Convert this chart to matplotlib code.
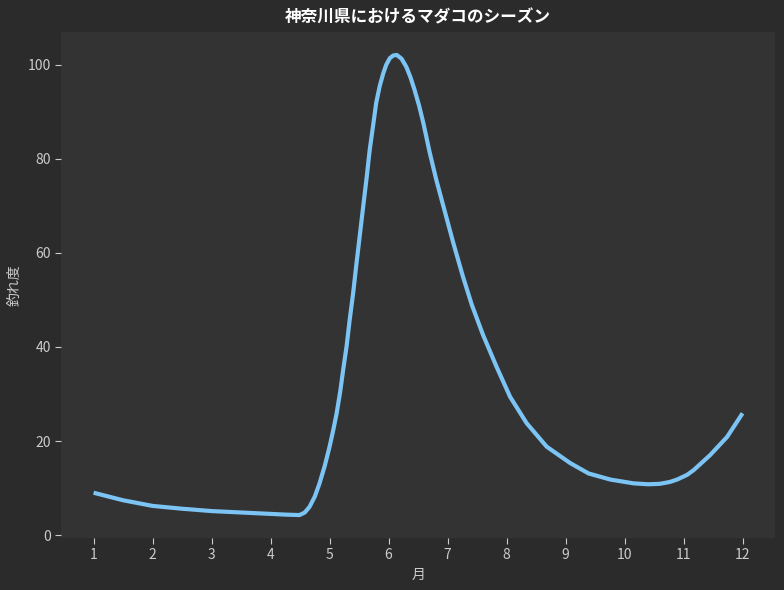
import matplotlib
matplotlib.use("Agg")
import matplotlib.pyplot as plt

plt.rcParams['font.family'] = ['Noto Sans CJK JP', 'DejaVu Sans']

# values (month, catch index)
months = [1.0, 1.5, 2.0, 2.5, 3.0, 3.5, 4.0, 4.25, 4.49, 4.58, 4.66, 4.75, 4.83, 4.92,
          5.0, 5.06, 5.12, 5.18, 5.23, 5.29, 5.34, 5.4, 5.45, 5.51, 5.57, 5.63, 5.68,
          5.74, 5.79, 5.85, 5.91, 5.96, 6.02, 6.08, 6.14, 6.22, 6.3, 6.37, 6.44, 6.52,
          6.59, 6.7, 6.81, 6.93, 7.1, 7.26, 7.41, 7.6, 7.83, 8.06, 8.34, 8.68, 9.08,
          9.39, 9.76, 10.15, 10.4, 10.6, 10.77, 10.89, 11.06, 11.17, 11.45, 11.74, 12.0]
score = [9.0, 7.4, 6.2, 5.6, 5.1, 4.8, 4.5, 4.35, 4.25, 4.8, 6.0, 8.2, 11.0, 14.8,
         18.8, 22.2, 25.9, 30.5, 35.1, 40.3, 45.7, 51.5, 57.1, 63.5, 69.9, 76.2, 81.9,
         87.3, 91.9, 95.5, 98.2, 100.0, 101.4, 102.0, 102.1, 101.3, 99.6, 97.4, 94.7, 91.2,
         87.6, 81.2, 75.5, 69.9, 62.0, 55.0, 49.0, 42.6, 35.8, 29.4, 23.8, 18.8, 15.3,
         13.1, 11.8, 11.0, 10.8, 10.9, 11.3, 11.8, 12.8, 13.8, 17.0, 20.9, 25.9]
month_ticks = list(range(1, 13))

fig = plt.figure(figsize=(7.84, 5.9), dpi=100, facecolor='#2b2b2b')
ax = fig.add_axes([0.078, 0.088, 0.9105, 0.8578])
ax.set_facecolor('#333333')

ax.plot(months, score, color='#7cc4f4', linewidth=3, solid_capstyle='butt',
        solid_joinstyle='round')

ax.set_xticks(month_ticks)
ax.set_yticks([0, 20, 40, 60, 80, 100])
for s in ax.spines.values():
    s.set_visible(False)
ax.tick_params(colors='#cccccc', labelsize=10, length=4)

ax.set_title('神奈川県におけるマダコのシーズン', color='white', fontsize=12,
             fontweight='bold', pad=7)
ax.set_xlabel('月', color='#cccccc', fontsize=10)
ax.set_ylabel('釣れ度', color='#cccccc', fontsize=10)

fig.savefig('out.png', dpi=100, facecolor=fig.get_facecolor())
